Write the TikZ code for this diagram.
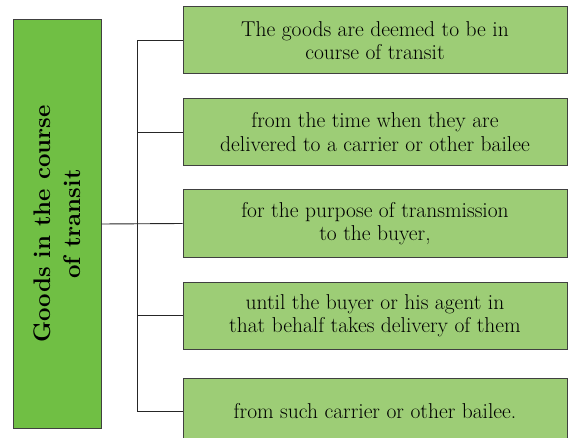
\documentclass[tikz,border=0pt]{standalone}
\usepackage{tikz}
\usetikzlibrary{positioning}
\definecolor{topicgreen}{HTML}{70BF44}
\definecolor{pointgreen}{HTML}{9DCD76}

\begin{document}
\begin{tikzpicture}[x=1pt, y=-1pt,
  topic/.style={draw=black!75, fill=topicgreen, line width=1pt, rotate=90,
    minimum width=408pt, minimum height=88pt, align=center,
    font=\fontsize{24}{30}\selectfont\bfseries},
  point/.style={draw=black!75, fill=pointgreen, line width=1pt,
    minimum width=384pt, minimum height=67pt, align=center,
    font=\fontsize{21.5}{23.5}\selectfont},
  link/.style={draw=black!85, line width=0.9pt}]
  \useasboundingbox (0,0) rectangle (572,438);
  \clip (0,0) rectangle (572,438);

  % Left box
  \node[topic] (goods) at (57,224) {Goods in the course\\of transit};

  % Right boxes
  \node[point] (p1) at (375,40.5) {The goods are deemed to be in\\course of transit};
  \node[point] (p2) at (375,132) {from the time when they are\\delivered to a carrier or other bailee};
  \node[point] (p3) at (375,223.5) {for the purpose of transmission\\to the buyer,};
  \node[point] (p4) at (375,315.5) {until the buyer or his agent in\\that behalf takes delivery of them};
  \node[point] (p5) at (375,411.5) {from such carrier or other bailee.};

  % Bus
  \coordinate (bustop) at (137,40.5);
  \coordinate (busbot) at (137,411.5);
  \draw[link] (bustop) -- (busbot);
  \draw[link] (goods.south) -- (p3.west);
  \foreach \p in {p1,p2,p4,p5} {
    \draw[link] (bustop |- \p.west) -- (\p.west);
  }
\end{tikzpicture}
\end{document}
